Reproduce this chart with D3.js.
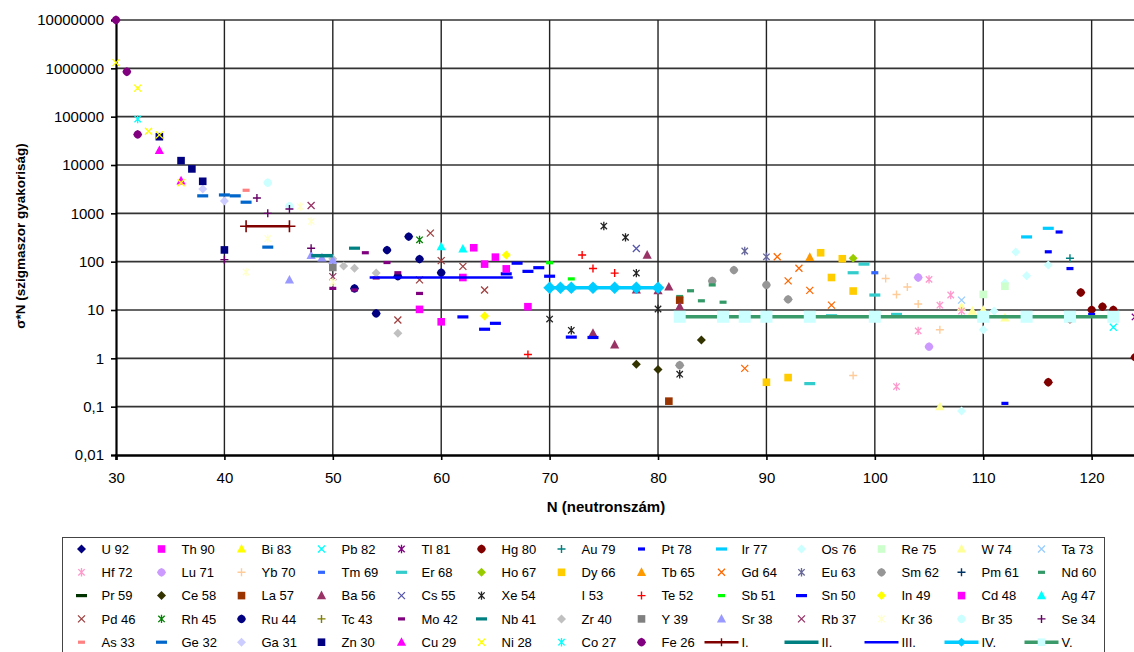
<!DOCTYPE html>
<html>
<head>
<meta charset="utf-8">
<script src="https://cdn.jsdelivr.net/npm/d3@7/dist/d3.min.js"></script>
<style>
  html, body { margin: 0; padding: 0; background: #fff; }
  svg { display: block; font-family: "Liberation Sans", Arial, sans-serif; }
</style>
</head>
<body>
<svg id="chart" width="1134" height="652"></svg>
<script>
// sigma*N values per element, [neutron number, sigma*N]
const U92 = [];
const Th90 = [];
const Bi83 = [];
const Pb82 = [[122, 4.4]];
const Tl81 = [[124, 7.2]];
const Hg80 = [[116, 0.32], [118, 6.5], [119, 23], [120, 10.1], [121, 11.7], [122, 10], [124, 1.05]];
const Au79 = [[118, 118]];
const Pt78 = [[112, 0.117], [116, 160], [117, 411], [118, 72], [120, 8.1]];
const Ir77 = [[114, 325], [116, 490]];
const Os76 = [[108, 0.081], [110, 3.9], [111, 9.5], [112, 36], [113, 158], [114, 51], [116, 85]];
const Re75 = [[110, 21], [112, 31]];
const W74 = [[106, 0.1], [108, 11.5], [109, 9.5], [110, 10], [112, 6.9]];
const Ta73 = [[108, 16]];
const Hf72 = [[102, 0.26], [104, 3.7], [105, 43], [106, 12.6], [107, 20.4], [108, 9.5]];
const Lu71 = [[104, 47], [105, 1.74]];
const Yb70 = [[98, 0.44], [101, 45], [102, 21], [103, 30], [104, 13.3], [106, 3.9]];
const Tm69 = [[100, 59]];
const Er68 = [[94, 0.30], [96, 7.6], [98, 59], [99, 89], [100, 20.4], [102, 8.1]];
const Ho67 = [[98, 117]];
const Dy66 = [[90, 0.32], [92, 0.40], [95, 153], [96, 47], [97, 115], [98, 24.7]];
const Tb65 = [[94, 123]];
const Gd64 = [[88, 0.62], [91, 126], [92, 40], [93, 73], [94, 25.5], [96, 12.6]];
const Eu63 = [[88, 166], [90, 126]];
const Sm62 = [[82, 0.72], [85, 40], [87, 67], [90, 33], [92, 16.6]];
const Pm61 = [];
const Nd60 = [[82, 19], [83, 25], [84, 15.5], [85, 33], [86, 14.5]];
const Pr59 = [];
const Ce58 = [[78, 0.75], [80, 0.59], [84, 2.4]];
const La57 = [[81, 0.13], [82, 16]];
const Ba56 = [[74, 3.3], [76, 1.9], [78, 26], [79, 137], [80, 25], [81, 30], [82, 11.8]];
const Cs55 = [[78, 187]];
const Xe54 = [[70, 6.5], [72, 3.8], [75, 545], [77, 318], [78, 58], [80, 10.5], [82, 0.47]];
const I53 = [];
const Te52 = [[68, 1.2], [73, 137], [74, 72], [76, 58]];
const Sb51 = [[70, 95], [72, 44]];
const Sn50 = [[62, 7.2], [64, 4.0], [65, 5.3], [66, 56], [67, 93], [68, 63], [69, 75], [70, 50], [72, 2.75], [74, 2.7]];
const In49 = [[64, 7.5], [66, 137]];
const Cd48 = [[58, 10.3], [60, 5.7], [62, 47], [63, 194], [64, 89], [65, 124], [66, 71], [68, 11.7]];
const Ag47 = [[60, 204], [62, 183]];
const Pd46 = [[56, 6.2], [58, 42], [59, 390], [60, 105], [62, 80], [64, 26]];
const Rh45 = [[58, 283]];
const Ru44 = [[52, 28], [54, 8.5], [55, 174], [56, 50], [57, 330], [58, 113], [60, 59]];
const Tc43 = [];
const Mo42 = [[50, 28], [52, 26], [53, 153], [54, 46], [55, 96], [56, 59], [58, 22]];
const Nb41 = [[52, 190]];
const Zr40 = [[50, 115], [51, 81], [52, 73], [54, 58], [56, 3.3]];
const Y39 = [[50, 76]];
const Sr38 = [[46, 42], [48, 135], [49, 120], [50, 107]];
const Rb37 = [[48, 1450], [50, 49]];
const Kr36 = [[42, 61], [44, 300], [47, 1380], [48, 680], [50, 38]];
const Br35 = [[44, 4300], [46, 1400]];
const Se34 = [[40, 110], [43, 2070], [44, 1000], [46, 1230], [48, 190]];
const As33 = [[42, 3000]];
const Ge32 = [[38, 2300], [40, 2400], [41, 2300], [42, 1700], [44, 200]];
const Ga31 = [[38, 3200], [40, 1800]];
const Zn30 = [[34, 38500], [36, 12300], [37, 8300], [38, 4600], [40, 175]];
const Cu29 = [[34, 20000], [36, 4700]];
const Ni28 = [[30, 1.31e6], [32, 3.9e5], [33, 5.0e4], [34, 4.2e4], [36, 4300]];
const Co27 = [[32, 8.9e4]];
const Fe26 = [[30, 1e7], [31, 8.5e5], [32, 4.3e4]];

// s-process plateaus
const lineI = [[42, 540], [46, 540]];
const lineII = [[48, 133], [50, 133]];
const lineIII = [[53.4, 47], [66.6, 47]];
const lineIV = [[70, 28.8], [71, 28.8], [72, 28.8], [74, 28.8], [76, 28.8], [78, 28.8], [80, 28.8]];
const lineV = [[82, 7.25], [86, 7.25], [88, 7.25], [90, 7.25], [94, 7.25], [100, 7.25], [110, 7.25], [114, 7.25], [118, 7.25], [122, 7.25]];

const xTicks = [30, 40, 50, 60, 70, 80, 90, 100, 110, 120];
const yTicks = [1e7, 1e6, 1e5, 1e4, 1e3, 100, 10, 1, 0.1, 0.01];
const yTickLabels = ["10000000", "1000000", "100000", "10000", "1000", "100", "10", "1", "0,1", "0,01"];

// series table: label, values, marker shape, colour
const series = [
  ["U 92", U92, "diamond", "#000080"], ["Th 90", Th90, "square", "#FF00FF"], ["Bi 83", Bi83, "triangle", "#FFFF00"],
  ["Pb 82", Pb82, "x", "#00FFFF"], ["Tl 81", Tl81, "star", "#800080"], ["Hg 80", Hg80, "circle", "#800000"],
  ["Au 79", Au79, "plus", "#008080"], ["Pt 78", Pt78, "dash", "#0000FF"], ["Ir 77", Ir77, "longdash", "#00CCFF"],
  ["Os 76", Os76, "diamond", "#CCFFFF"], ["Re 75", Re75, "square", "#CCFFCC"], ["W 74", W74, "triangle", "#FFFF99"],
  ["Ta 73", Ta73, "x", "#99CCFF"],
  ["Hf 72", Hf72, "star", "#FF99CC"], ["Lu 71", Lu71, "circle", "#CC99FF"], ["Yb 70", Yb70, "plus", "#FFCC99"],
  ["Tm 69", Tm69, "dash", "#3366FF"], ["Er 68", Er68, "longdash", "#33CCCC"], ["Ho 67", Ho67, "diamond", "#99CC00"],
  ["Dy 66", Dy66, "square", "#FFCC00"], ["Tb 65", Tb65, "triangle", "#FF9900"], ["Gd 64", Gd64, "x", "#FF6600"],
  ["Eu 63", Eu63, "star", "#666699"], ["Sm 62", Sm62, "circle", "#969696"], ["Pm 61", Pm61, "plus", "#003366"],
  ["Nd 60", Nd60, "dash", "#339966"],
  ["Pr 59", Pr59, "longdash", "#003300"], ["Ce 58", Ce58, "diamond", "#333300"], ["La 57", La57, "square", "#993300"],
  ["Ba 56", Ba56, "triangle", "#993366"], ["Cs 55", Cs55, "x", "#5555AA"], ["Xe 54", Xe54, "star", "#222222"],
  ["I 53", I53, "none", "#FFFFFF"], ["Te 52", Te52, "plus", "#FF0000"], ["Sb 51", Sb51, "dash", "#00FF00"],
  ["Sn 50", Sn50, "longdash", "#0000FF"], ["In 49", In49, "diamond", "#FFFF00"], ["Cd 48", Cd48, "square", "#FF00FF"],
  ["Ag 47", Ag47, "triangle", "#00FFFF"],
  ["Pd 46", Pd46, "x", "#A04040"], ["Rh 45", Rh45, "star", "#008000"], ["Ru 44", Ru44, "circle", "#000080"],
  ["Tc 43", Tc43, "plus", "#808000"], ["Mo 42", Mo42, "dash", "#800080"], ["Nb 41", Nb41, "longdash", "#008080"],
  ["Zr 40", Zr40, "diamond", "#C0C0C0"], ["Y 39", Y39, "square", "#808080"], ["Sr 38", Sr38, "triangle", "#9999FF"],
  ["Rb 37", Rb37, "x", "#993366"], ["Kr 36", Kr36, "star", "#FFFFCC"], ["Br 35", Br35, "circle", "#CCFFFF"],
  ["Se 34", Se34, "plus", "#660066"],
  ["As 33", As33, "dash", "#FF8080"], ["Ge 32", Ge32, "longdash", "#0066CC"], ["Ga 31", Ga31, "diamond", "#CCCCFF"],
  ["Zn 30", Zn30, "square", "#000080"], ["Cu 29", Cu29, "triangle", "#FF00FF"], ["Ni 28", Ni28, "x", "#FFFF00"],
  ["Co 27", Co27, "star", "#00FFFF"], ["Fe 26", Fe26, "circle", "#800080"]
];

// connected plateau lines: label, values, colour, width, marker, marker colour
const lineSeries = [
  ["I.", lineI, "#800000", 2.5, "bigplus", "#800000"],
  ["II.", lineII, "#008080", 3.5, "none", null],
  ["III.", lineIII, "#0000FF", 2.5, "none", null],
  ["IV.", lineIV, "#00CCFF", 3.5, "bigdiamond", "#00CCFF"],
  ["V.", lineV, "#3A9A6A", 3.5, "bigsquare", "#CCFFFF"]
];

const svg = d3.select("#chart");
const plot = { left: 116, top: 20, right: 1135, bottom: 455 };

const x = d3.scaleLinear().domain([30, 124]).range([plot.left, plot.right]);
const y = d3.scaleLog().domain([0.01, 1e7]).range([plot.bottom, plot.top]);

// plot background and grid
svg.append("rect").attr("x", plot.left).attr("y", plot.top)
  .attr("width", 1134 - plot.left).attr("height", plot.bottom - plot.top).attr("fill", "#fff");

const grid = svg.append("g");
grid.selectAll("line.h").data(yTicks.filter(v => v > 0.01)).join("line")
  .attr("x1", plot.left).attr("x2", 1134)
  .attr("y1", d => y(d)).attr("y2", d => y(d))
  .attr("stroke", "#333").attr("stroke-width", 1.6);
grid.selectAll("line.v").data(xTicks.filter(v => v > 30)).join("line")
  .attr("x1", d => x(d)).attr("x2", d => x(d))
  .attr("y1", plot.top).attr("y2", plot.bottom)
  .attr("stroke", "#222").attr("stroke-width", 1.4);

// axes
const yAxis = d3.axisLeft(y).tickValues(yTicks)
  .tickFormat((d, i) => yTickLabels[i]).tickSizeOuter(0).tickSize(5).tickPadding(7);
const gy = svg.append("g").attr("transform", `translate(${plot.left},0)`).call(yAxis);
gy.select(".domain").attr("stroke", "#000").attr("stroke-width", 2.2);
gy.selectAll(".tick line").attr("stroke", "#000").attr("stroke-width", 1.6);
gy.selectAll(".tick text").attr("font-size", 15).attr("fill", "#000")
  .attr("font-family", "'Liberation Sans', Arial, sans-serif");

const xAxis = d3.axisBottom(x).tickValues(xTicks).tickSizeOuter(0).tickSize(5).tickPadding(12);
const gx = svg.append("g").attr("transform", `translate(0,${plot.bottom})`).call(xAxis);
gx.select(".domain").attr("stroke", "#000").attr("stroke-width", 2.6);
gx.selectAll(".tick line").attr("stroke", "#000").attr("stroke-width", 1.6);
gx.selectAll(".tick text").attr("font-size", 15).attr("fill", "#000")
  .attr("font-family", "'Liberation Sans', Arial, sans-serif");

// axis titles
svg.append("text").attr("x", 606).attr("y", 512).attr("text-anchor", "middle")
  .attr("font-size", 15).attr("font-weight", "bold").text("N (neutronszám)");
svg.append("text").attr("transform", "translate(25,236) rotate(-90)").attr("text-anchor", "middle")
  .attr("font-size", 13.5).attr("font-weight", "bold").text("σ*N (szigmaszor gyakoriság)");

// marker drawing
function drawMarker(g, shape, color) {
  switch (shape) {
    case "diamond":
      g.append("path").attr("d", "M0,-4.5L4.5,0L0,4.5L-4.5,0Z").attr("fill", color); break;
    case "square":
      g.append("rect").attr("x", -3.8).attr("y", -3.8).attr("width", 7.6).attr("height", 7.6).attr("fill", color); break;
    case "triangle":
      g.append("path").attr("d", "M0,-5L4.6,3.6L-4.6,3.6Z").attr("fill", color); break;
    case "circle":
      g.append("path").attr("d", "M0,-4.4C2.6,-3.4 3.4,-2.6 4.4,0C3.4,2.6 2.6,3.4 0,4.4C-2.6,3.4 -3.4,2.6 -4.4,0C-3.4,-2.6 -2.6,-3.4 0,-4.4Z")
        .attr("fill", color); break;
    case "x":
      g.append("path").attr("d", "M-3.5,-3.5L3.5,3.5M3.5,-3.5L-3.5,3.5")
        .attr("stroke", color).attr("stroke-width", 1.3).attr("fill", "none"); break;
    case "star":
      g.append("path").attr("d", "M-3.2,-3.2L3.2,3.2M3.2,-3.2L-3.2,3.2M0,-4.2L0,4.2")
        .attr("stroke", color).attr("stroke-width", 1.3).attr("fill", "none"); break;
    case "plus":
      g.append("path").attr("d", "M-4,0L4,0M0,-4L0,4")
        .attr("stroke", color).attr("stroke-width", 1.4).attr("fill", "none"); break;
    case "dash":
      g.append("rect").attr("x", -3.5).attr("y", -1.6).attr("width", 7).attr("height", 3.2).attr("fill", color); break;
    case "longdash":
      g.append("rect").attr("x", -5.5).attr("y", -1.6).attr("width", 11).attr("height", 3.2).attr("fill", color); break;
    case "bigplus":
      g.append("path").attr("d", "M-6,0L6,0M0,-6L0,6")
        .attr("stroke", color).attr("stroke-width", 1.6).attr("fill", "none"); break;
    case "bigdiamond":
      g.append("path").attr("d", "M0,-6.3L6.3,0L0,6.3L-6.3,0Z").attr("fill", color); break;
    case "bigsquare":
      g.append("rect").attr("x", -6).attr("y", -6).attr("width", 12).attr("height", 12).attr("fill", color); break;
    default: break;
  }
}

const marks = svg.append("g");
series.forEach(([label, data, shape, color]) => {
  const sg = marks.append("g").attr("class", "series");
  sg.selectAll("g").data(data).join("g")
    .attr("transform", d => `translate(${x(d[0])},${y(d[1])})`)
    .each(function () { drawMarker(d3.select(this), shape, color); });
});

const line = d3.line().x(d => x(d[0])).y(d => y(d[1]));
lineSeries.forEach(([label, data, color, width, shape, mcolor]) => {
  const lg = marks.append("g");
  lg.append("path").datum(data).attr("d", line).attr("fill", "none")
    .attr("stroke", color).attr("stroke-width", width);
  if (shape !== "none") {
    lg.selectAll("g").data(data).join("g")
      .attr("transform", d => `translate(${x(d[0])},${y(d[1])})`)
      .each(function () { drawMarker(d3.select(this), shape, mcolor); });
  }
});

// legend
const legend = svg.append("g");
legend.append("rect").attr("x", 62.5).attr("y", 537.5).attr("width", 1042).attr("height", 130)
  .attr("fill", "#fff").attr("stroke", "#444").attr("stroke-width", 1);

const entries = series.map(s => ({ label: s[0], shape: s[2], color: s[3], line: null }))
  .concat(lineSeries.map(s => ({ label: s[0], shape: s[4], color: s[5], line: s[2], width: s[3] })));

entries.forEach((e, i) => {
  const col = i % 13, row = Math.floor(i / 13);
  const mx = 81.5 + col * 80, my = 549 + row * 23.3;
  const g = legend.append("g");
  if (e.line) {
    g.append("line").attr("x1", mx - 17).attr("x2", mx + 17).attr("y1", my).attr("y2", my)
      .attr("stroke", e.line).attr("stroke-width", e.width);
    const lm = g.append("g").attr("transform", `translate(${mx},${my})`);
    const small = { bigplus: "plus", bigdiamond: "diamond", bigsquare: "square" }[e.shape];
    if (small) drawMarker(lm, small, e.color);
  } else {
    const lm = g.append("g").attr("transform", `translate(${mx},${my})`);
    drawMarker(lm, e.shape, e.color);
  }
  g.append("text").attr("x", mx + 20).attr("y", my).attr("dy", "0.36em")
    .attr("font-size", 13).attr("fill", "#000").text(e.label);
});
</script>
</body>
</html>
